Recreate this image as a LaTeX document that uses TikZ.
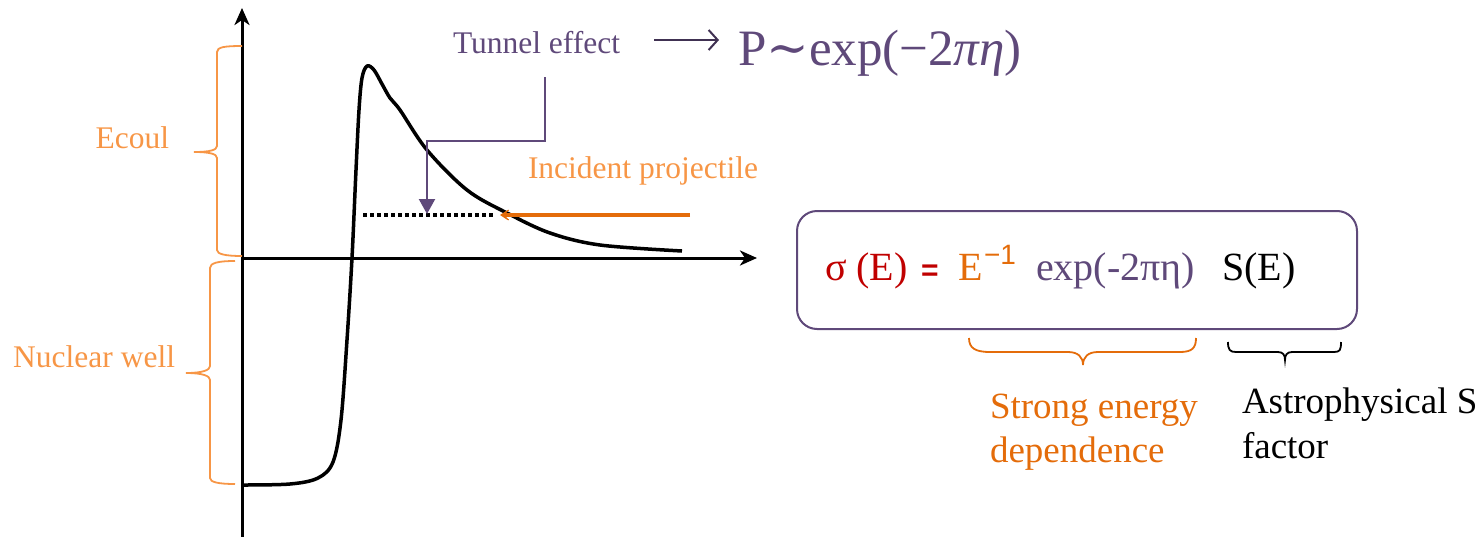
\documentclass[tikz,border=0pt]{standalone}
\usepackage{fontspec}
\setmainfont{Liberation Serif}
\newfontfamily\sansf{Liberation Sans}
\newfontfamily\dserif{DejaVu Serif}
\usetikzlibrary{arrows.meta}
\definecolor{ppurple}{HTML}{5F497A}
\definecolor{dpurple}{HTML}{403152}
\definecolor{lorange}{HTML}{F79646}
\definecolor{dorange}{HTML}{E46C0A}
\definecolor{fred}{HTML}{C00000}
\tikzset{
  txt/.style={inner sep=0pt, outer sep=0pt},
  lab/.style={txt, font=\fontsize{31.5}{36}\selectfont},
  big/.style={txt, font=\fontsize{40}{46}\selectfont},
  axis/.style={line width=3pt, -{Stealth[length=17pt,width=15pt,inset=5pt]}},
  lbrace/.style={lorange, line width=1.8pt},
}
\begin{document}
\begin{tikzpicture}[x=1pt,y=-1pt]
\useasboundingbox (0,0) rectangle (1484,536);
% axes
\coordinate (O) at (242,258);
\coordinate (ybot) at (242,540);
\coordinate (ytop) at (242,8);
\coordinate (xend) at (757,258);
\draw[line width=3pt] (ybot) -- (O);
\draw[axis] (O) -- (ytop);
\draw[axis] (O) -- (xend);
% potential curve
\draw[line width=3.5pt, line join=round] plot[smooth, tension=0.55] coordinates {
 (242,485) (290,484) (318,478) (333,462) (341,420) (347,340) (352,258) (356,170)
 (359,110) (362,78) (367,66) (374,70) (382,84) (390,98) (400,110) (427,150)
 (467,190) (507,213) (550,233) (600,245) (682,251)};
% dotted energy level
\coordinate (dotS) at (363,215);
\coordinate (dotE) at (495,215);
\draw[line width=3.5pt, dash pattern=on 3.5pt off 3.5pt] (dotS) -- (dotE);
% incident projectile arrow
\coordinate (incS) at (690,215);
\coordinate (incE) at (500,215);
\draw[dorange, line width=3.5pt, -{Stealth[length=13pt,width=17pt,inset=9pt]}] (incS) -- (incE);
\node[lab, text=lorange, anchor=base west] (inc) at (528,178) {Incident projectile};
% tunnel effect
\node[lab, text=ppurple, anchor=base west] (tunnel) at (453,53) {Tunnel effect};
\coordinate (tunS) at (545,77);
\coordinate (tunK) at (545,141);
\coordinate (tunE) at (427,214);
\draw[ppurple, line width=2.2pt, -{Triangle[length=15pt,width=16pt]}] (tunS) -- (tunK) -| (tunE);
\coordinate (parS) at (654,40);
\coordinate (parE) at (719,40);
\draw[dpurple, line width=2pt, -{Straight Barb[length=9pt,width=20pt]}] (parS) -- (parE);
\node[txt, text=ppurple, anchor=base west, font=\fontsize{51}{56}\selectfont] (pform) at (738,65) {P{\dserif ∼}exp(−2{\itshape πη})};
% left braces
\draw[lbrace] (242,46) .. controls (225,46) and (217,47) .. (217,52) -- (217,146)
  .. controls (217,150) and (210,152) .. (194,152) .. controls (210,152) and (217,154) .. (217,158)
  -- (217,250) .. controls (217,254) and (225,256) .. (242,256);
\node[lab, text=lorange, anchor=base east] (ecoul) at (169,148) {Ecoul};
\draw[lbrace] (235,261) .. controls (218,261) and (210,263) .. (210,268) -- (210,366)
  .. controls (210,370) and (203,373) .. (186,373) .. controls (203,373) and (210,376) .. (210,380)
  -- (210,478) .. controls (210,482) and (218,484) .. (235,484);
\node[lab, text=lorange, anchor=base east] (nwell) at (175,367) {Nuclear well};
% formula box
\node[draw=ppurple, line width=2pt, rounded corners=20pt, minimum width=560pt, minimum height=118pt, inner sep=0pt] (box) at (1077,270) {};
\node[big, text=fred, anchor=base west] (sig) at (825,280) {σ (E)};
\node[txt, text=fred, anchor=base west, font=\sansf\bfseries\fontsize{30}{34}\selectfont] (eq) at (921,280) {=};
\node[big, text=dorange, anchor=base west] (einv) at (958,280) {E};
\node[txt, text=dorange, anchor=base west, font=\sansf\fontsize{28}{32}\selectfont] (einvx) at (984,264) {−1};
\node[big, text=ppurple, anchor=base west] (expf) at (1036,280) {exp(-2πη)};
\node[big, text=black, anchor=base west] (sfac) at (1222,280) {S(E)};
% lower braces
\draw[dorange, line width=1.8pt] (969,338) .. controls (969,348) and (975,352) .. (990,352) -- (1068,352)
  .. controls (1078,352) and (1083,357) .. (1083,365) .. controls (1083,357) and (1088,352) .. (1098,352)
  -- (1180,352) .. controls (1192,352) and (1196,348) .. (1196,338);
\draw[black, line width=1.8pt] (1228,342) .. controls (1228,350) and (1230,352) .. (1236,352) -- (1278,352)
  .. controls (1283,352) and (1285,355) .. (1285,360) .. controls (1285,355) and (1287,352) .. (1292,352)
  -- (1334,352) .. controls (1340,352) and (1341,350) .. (1341,342);
\node[txt, text=dorange, anchor=base west, align=left, font=\fontsize{37}{44}\selectfont] (strong) at (990,462) {Strong energy\\dependence};
\node[txt, text=black, anchor=base west, align=left, font=\fontsize{37}{45}\selectfont] (astro) at (1242,458) {Astrophysical S\\factor};
\end{tikzpicture}
\end{document}
